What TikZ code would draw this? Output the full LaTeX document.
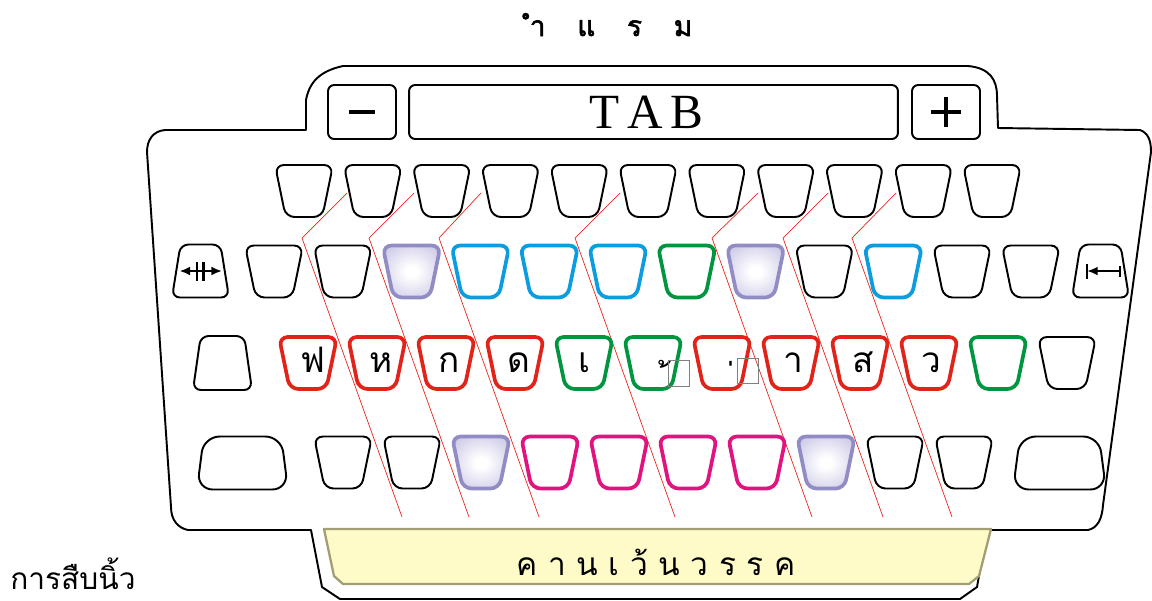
\documentclass[tikz,border=0pt]{standalone}
\usepackage{fontspec}
\setmainfont{Liberation Serif}
\newfontfamily\thai[Script=Thai]{Loma}
\newfontfamily\thaiheavy[Script=Thai,FakeBold=2]{Loma}
\usetikzlibrary{shapes.geometric,arrows.meta}

\definecolor{keyred}{HTML}{E2231A}
\definecolor{keygreen}{HTML}{00963F}
\definecolor{keyblue}{HTML}{0B9DDF}
\definecolor{keypink}{HTML}{E2127E}
\definecolor{keyrim}{HTML}{928CC4}
\definecolor{keylav}{HTML}{C3BFE2}
\definecolor{barfill}{HTML}{FFFBC8}
\definecolor{barrim}{HTML}{A29E74}
\definecolor{guide}{HTML}{E8281E}

\pgfdeclareradialshading{keyglow}{\pgfpoint{0bp}{0bp}}{color(0bp)=(white); color(5bp)=(white); color(36bp)=(keylav); color(100bp)=(keylav)}

% a lone tone mark, set low on a no-break space
\newcommand\mai[2]{\rlap{\hspace{#1}\raisebox{-0.5cm}{\char"00A0 #2}}}
\newcommand\tgap{\hspace{6pt}}

\begin{document}
\begin{tikzpicture}[x=0.02cm, y=-0.02cm,
    keyshape/.style={trapezium, trapezium stretches=true, trapezium angle=77,
        shape border rotate=180, minimum width=1.16cm, minimum height=1.04cm,
        rounded corners=5pt, fill=white, inner sep=0pt, text width=0.3cm, align=center,
        text height=0.38cm, text depth=0pt, font=\thai\fontsize{20}{20}\selectfont},
    blackkey/.style={keyshape, draw=black, line width=1.1pt},
    redkey/.style={keyshape, draw=keyred, line width=2.1pt},
    greenkey/.style={keyshape, draw=keygreen, line width=2.1pt},
    bluekey/.style={keyshape, draw=keyblue, line width=2.1pt},
    pinkkey/.style={keyshape, draw=keypink, line width=2.1pt},
    glowkey/.style={keyshape, draw=keyrim, line width=2.1pt, shade, shading=keyglow},
    sidekey/.style={trapezium, trapezium stretches=true, draw, line width=1.1pt,
        rounded corners=4.5pt, fill=white, inner sep=1pt},
    topkey/.style={draw, line width=1.1pt, rounded corners=3.5pt, fill=white,
        minimum height=1.08cm, inner sep=0pt},
    sign/.style={line width=2.8pt},
    icon/.style={line width=0.9pt},
    guideline/.style={guide, line width=0.4pt},
    casing/.style={line width=1.1pt, line join=round}]

    \useasboundingbox (0,0) rectangle (1152,600);
    \fill[white] (0,0) rectangle (1152,600);

    % Case outline
    \draw[casing] (147,152) .. controls (147,140) and (153,131) .. (165,130)
        -- (306,130) -- (306,100) .. controls (310,78) and (325,70) .. (343,66)
        -- (968,66) .. controls (990,68) and (997,80) .. (997,96)
        -- (998,128) -- (1140,130) .. controls (1148,133) and (1151,140) .. (1151,152)
        -- (1103,505) .. controls (1102,520) and (1097,528) .. (1088,530)
        -- (987,530) -- (977,587) -- (960,599) -- (340,599) -- (322,587)
        -- (311,530) -- (188,530) .. controls (178,528) and (171,520) .. (171,507)
        -- cycle;

    % Space bar
    \filldraw[fill=barfill, draw=barrim, line width=1.3pt, line join=round]
        (324,529) -- (991,529) -- (979,576) -- (969,584) -- (343,584) -- (334,576) -- cycle;
    \node[font=\thai\fontsize{18}{18}\selectfont, anchor=base] (spacetext) at (656,575)
        {ค\tgap า\tgap น\tgap เ\tgap ว้\tgap น\tgap ว\tgap ร\tgap ร\tgap ค};

    % Finger guide lines
    \foreach \a/\b in {347/302, 414/369, 481/439, 620/575, 758/712, 828/783, 896/852}
        \draw[guideline] (\a,193) -- (\b,238) -- (\b+100,517);

    % TAB row
    \node[topkey, minimum width=1.36cm] (minus) at (362,112) {};
    \node[topkey, minimum width=9.78cm, font=\fontsize{28}{28}\selectfont] (tab) at (653.5,112)
        {T\kern4.5pt A\kern4.5pt B\kern8pt};
    \node[topkey, minimum width=1.36cm] (plus) at (946,112) {};
    \draw[sign] ([xshift=-0.26cm]minus.center) -- ([xshift=0.26cm]minus.center);
    \draw[sign] ([xshift=-0.3cm]plus.center) -- ([xshift=0.3cm]plus.center)
        ([yshift=-0.3cm]plus.center) -- ([yshift=0.3cm]plus.center);

    % Number row
    \foreach \i in {0,...,10}
        \node[blackkey] (a\i) at (304+68.8*\i,191) {};

    % Upper row
    \node[sidekey, trapezium angle=78, minimum width=1.14cm, minimum height=1.06cm] (tabkey) at (200.5,271) {};
    \foreach \s [count=\i from 0] in {blackkey,blackkey,glowkey,bluekey,bluekey,bluekey,greenkey,glowkey,blackkey,bluekey,blackkey,blackkey}
        \node[\s] (b\i) at (274+68.8*\i,271.5) {};
    \node[sidekey, trapezium angle=78, minimum width=1.14cm, minimum height=1.06cm] (backkey) at (1100.5,271) {};
    \draw[icon, line width=1.1pt, {Latex[length=6pt,width=5pt]}-{Latex[length=6pt,width=5pt]}]
        ([xshift=-0.42cm]tabkey.center) -- ([xshift=0.43cm]tabkey.center);
    \draw[line width=1.6pt] ([xshift=-0.07cm,yshift=-0.19cm]tabkey.center) -- ([xshift=-0.07cm,yshift=0.19cm]tabkey.center)
        ([xshift=0.06cm,yshift=-0.19cm]tabkey.center) -- ([xshift=0.06cm,yshift=0.19cm]tabkey.center);
    \draw[icon, line width=1.2pt, {Latex[length=6pt,width=5pt]}-] ([xshift=-0.27cm]backkey.center) -- ([xshift=0.39cm]backkey.center);
    \draw[icon, line width=1.1pt] ([xshift=-0.27cm,yshift=-0.15cm]backkey.center) -- ([xshift=-0.27cm,yshift=0.15cm]backkey.center)
        ([xshift=0.39cm,yshift=-0.11cm]backkey.center) -- ([xshift=0.39cm,yshift=0.11cm]backkey.center);

    % Home row
    \node[sidekey, trapezium angle=80, minimum width=1.18cm, minimum height=1.08cm] (capskey) at (222.5,363) {};
    \foreach \s/\t [count=\i from 0] in {redkey/ฟ,redkey/ห,redkey/ก,redkey/ด,greenkey/เ,greenkey/\mai{0.15cm}{้},redkey/\mai{0.08cm}{่},redkey/า,redkey/ส,redkey/ว,greenkey/,blackkey/}
        \node[\s] (c\i) at (308+69*\i,363) {\t};
    \draw[gray, line width=0.5pt] (668,360) rectangle (689,386);
    \draw[gray, line width=0.5pt] (737,358) rectangle (758,383);

    % Bottom row
    \node[sidekey, trapezium angle=85, rounded corners=9pt, minimum width=1.82cm, minimum height=1.06cm] (shiftl) at (242.5,463) {};
    \foreach \s [count=\i from 0] in {blackkey,blackkey,glowkey,pinkkey,pinkkey,pinkkey,pinkkey,glowkey,blackkey,blackkey}
        \node[\s] (d\i) at (343+69*\i,462.5) {};
    \node[sidekey, trapezium angle=85, rounded corners=9pt, minimum width=1.86cm, minimum height=1.06cm] (shiftr) at (1059.5,463) {};

    % Texts outside the case
    \node[font=\thaiheavy\fontsize{16}{16}\selectfont, anchor=base] (title) at (611,36)
        {ำ\hspace{18pt}แ\hspace{18pt}ร\hspace{18pt}ม};
    \node[font=\thai\fontsize{17}{17}\selectfont, anchor=base west, inner sep=0pt] (caption) at (10,589) {การสืบนิ้ว};
\end{tikzpicture}
\end{document}
